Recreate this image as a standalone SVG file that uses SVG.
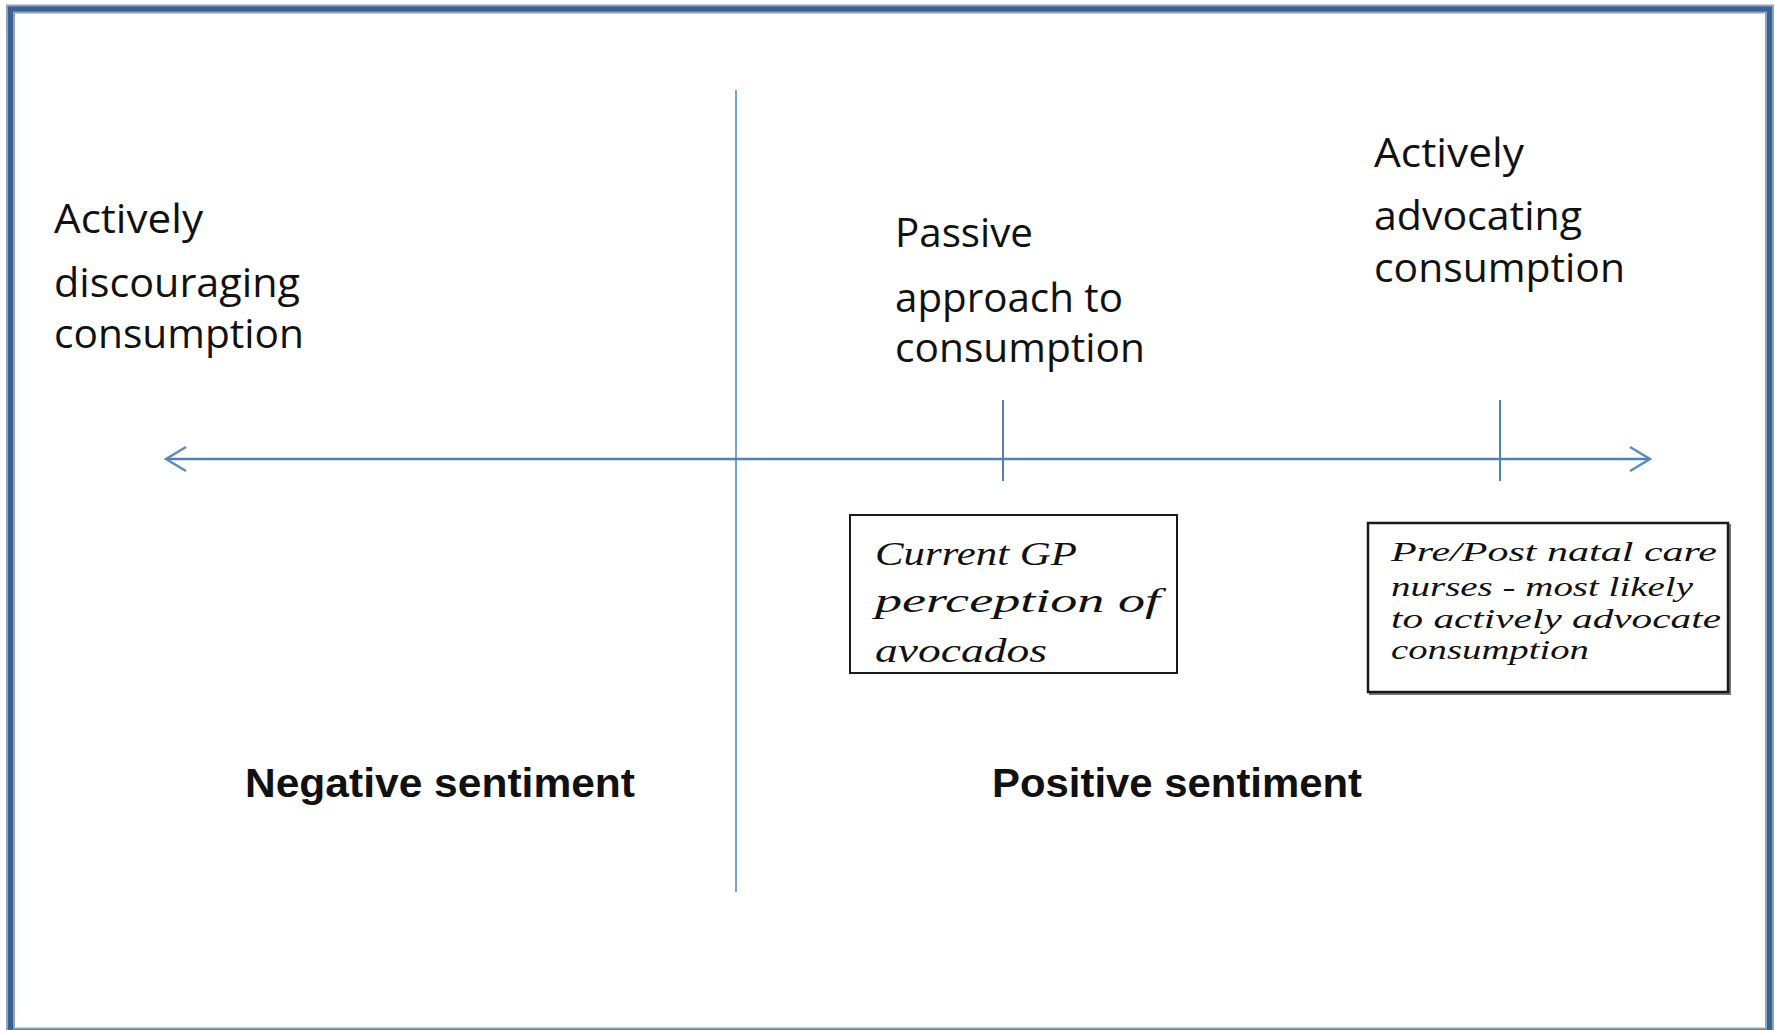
<svg xmlns="http://www.w3.org/2000/svg" width="1775" height="1030" viewBox="0 0 1775 1030">
<style>
.lbl{font-family:"Open Sans","Liberation Sans",sans-serif;font-size:40px;fill:#111}
.sent{font-family:"Liberation Sans",Arial,sans-serif;font-weight:bold;font-size:40px;fill:#111}
.hand{font-family:"Liberation Serif","DejaVu Serif",serif;font-style:italic;fill:#111}
.ax{stroke:#4f81bd;fill:none}
.box{fill:#fff;stroke:#1a1a1a}
</style>
<defs>
<marker id="chev" viewBox="0 0 24 28" refX="22" refY="14" markerWidth="24" markerHeight="28" markerUnits="userSpaceOnUse" orient="auto-start-reverse">
<path d="M2,2 L22,14 L2,26" fill="none" stroke="#5b89c2" stroke-width="2.5"/>
</marker>
</defs>
<rect width="1775" height="1030" fill="#fff"/>
<g id="frame">
<rect x="10.5" y="9" width="1759" height="1023" fill="none" stroke="#8ea3bf" stroke-width="9"/>
<rect x="10.5" y="9" width="1759" height="1023" fill="none" stroke="#3b6190" stroke-width="5"/>
</g>
<g id="connectors">
<line class="ax" x1="736" y1="90" x2="736" y2="892" stroke-width="1.5"/>
<line class="ax" x1="166" y1="459" x2="1650" y2="459" stroke-width="2.5" stroke="#5b89c2" marker-start="url(#chev)" marker-end="url(#chev)"/>
<line class="ax" x1="1003" y1="400" x2="1003" y2="481" stroke-width="2"/>
<line class="ax" x1="1500" y1="400" x2="1500" y2="481" stroke-width="2"/>
</g>
<g id="label-discouraging">
<text class="lbl" x="54" y="233" textLength="149" lengthAdjust="spacingAndGlyphs">Actively</text>
<text class="lbl" x="54" y="297" textLength="246" lengthAdjust="spacingAndGlyphs">discouraging</text>
<text class="lbl" x="54" y="348" textLength="250" lengthAdjust="spacingAndGlyphs">consumption</text>
</g>
<g id="label-passive">
<text class="lbl" x="895" y="247" textLength="138" lengthAdjust="spacingAndGlyphs">Passive</text>
<text class="lbl" x="895" y="312" textLength="228" lengthAdjust="spacingAndGlyphs">approach to</text>
<text class="lbl" x="895" y="362" textLength="250" lengthAdjust="spacingAndGlyphs">consumption</text>
</g>
<g id="label-advocating">
<text class="lbl" x="1374" y="167" textLength="150" lengthAdjust="spacingAndGlyphs">Actively</text>
<text class="lbl" x="1374" y="230" textLength="208" lengthAdjust="spacingAndGlyphs">advocating</text>
<text class="lbl" x="1374" y="282" textLength="251" lengthAdjust="spacingAndGlyphs">consumption</text>
</g>
<g id="label-negative">
<text class="sent" x="245" y="797" textLength="390" lengthAdjust="spacingAndGlyphs">Negative sentiment</text>
</g>
<g id="label-positive">
<text class="sent" x="992" y="797" textLength="370" lengthAdjust="spacingAndGlyphs">Positive sentiment</text>
</g>
<g id="box-gp">
<rect class="box" x="850" y="515" width="327" height="158" stroke-width="2"/>
<text class="hand" font-size="33" x="875" y="565" textLength="202" lengthAdjust="spacingAndGlyphs">Current GP</text>
<text class="hand" font-size="33" x="875" y="612" textLength="285" lengthAdjust="spacingAndGlyphs">perception of</text>
<text class="hand" font-size="33" x="875" y="662" textLength="172" lengthAdjust="spacingAndGlyphs">avocados</text>
</g>
<g id="box-nurses">
<rect x="1370" y="525" width="360" height="169" fill="none" stroke="#777" stroke-width="2"/>
<rect class="box" x="1368" y="523" width="360" height="169" stroke-width="2.5"/>
<text class="hand" font-size="27" x="1391" y="561" textLength="326" lengthAdjust="spacingAndGlyphs">Pre/Post natal care</text>
<text class="hand" font-size="27" x="1391" y="596" textLength="302" lengthAdjust="spacingAndGlyphs">nurses - most likely</text>
<text class="hand" font-size="27" x="1391" y="628" textLength="330" lengthAdjust="spacingAndGlyphs">to actively advocate</text>
<text class="hand" font-size="27" x="1391" y="659" textLength="198" lengthAdjust="spacingAndGlyphs">consumption</text>
</g>
</svg>
